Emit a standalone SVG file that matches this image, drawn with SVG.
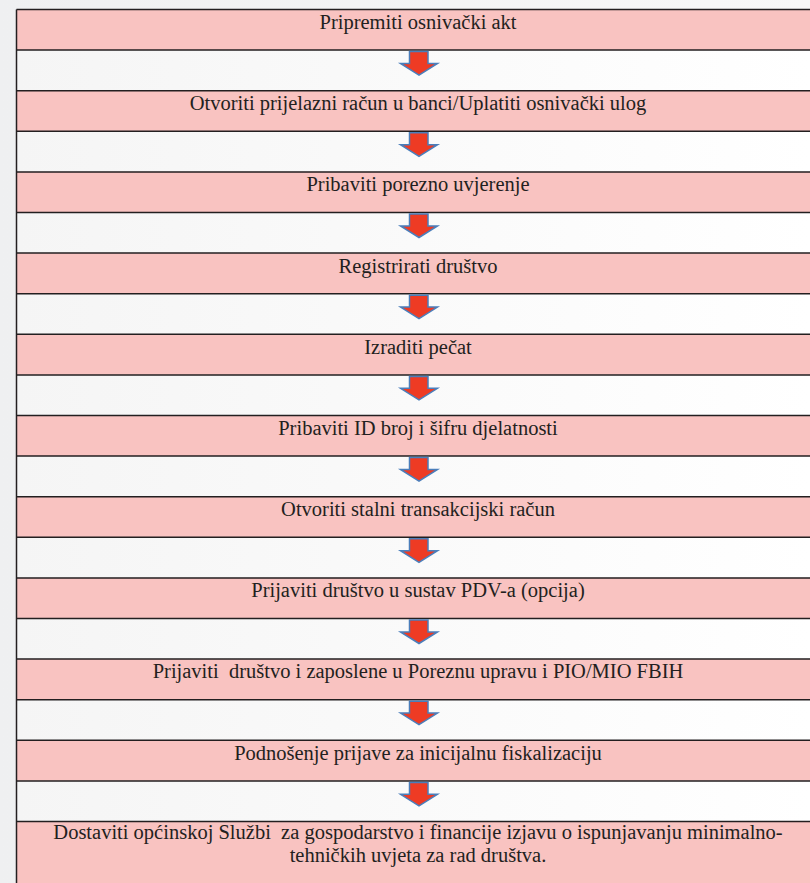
<svg xmlns="http://www.w3.org/2000/svg" width="810" height="883" viewBox="0 0 810 883">
<style>
.pink{fill:#f9c3c1}
.white{fill:url(#wg)}
.ln{stroke:#231f20;stroke-width:1.5;fill:none}
.t{font-family:"Liberation Serif","Times New Roman",serif;font-size:20.5px;fill:#231f20;text-anchor:middle;white-space:pre}
.arrow{fill:#ee3b24;stroke:#4a7ebb;stroke-width:1.5;stroke-linejoin:miter}
</style>
<defs>
<linearGradient id="bg" x1="0" y1="0" x2="1" y2="0">
<stop offset="0" stop-color="#eff0f1"/>
<stop offset="1" stop-color="#f8f8f8"/>
</linearGradient>
<linearGradient id="wg" x1="0" y1="0" x2="1" y2="0">
<stop offset="0" stop-color="#f5f5f5"/>
<stop offset="0.5" stop-color="#fafafa"/>
<stop offset="1" stop-color="#ffffff"/>
</linearGradient>
<path id="arr" class="arrow" d="M409.5,1.5 H428 V13.4 H437.5 L419,25 L400.5,13.4 H409.5 Z"/>
</defs>
<rect x="0" y="0" width="810" height="883" fill="url(#bg)"/>
<g id="rows">
<rect class="pink" x="16.5" y="9.5" width="794" height="40.6"/>
<rect class="white" x="16.5" y="50.1" width="794" height="40.6"/>
<rect class="pink" x="16.5" y="90.7" width="794" height="40.6"/>
<rect class="white" x="16.5" y="131.3" width="794" height="40.6"/>
<rect class="pink" x="16.5" y="171.9" width="794" height="40.6"/>
<rect class="white" x="16.5" y="212.5" width="794" height="40.6"/>
<rect class="pink" x="16.5" y="253.1" width="794" height="40.6"/>
<rect class="white" x="16.5" y="293.7" width="794" height="40.6"/>
<rect class="pink" x="16.5" y="334.3" width="794" height="40.6"/>
<rect class="white" x="16.5" y="374.9" width="794" height="40.6"/>
<rect class="pink" x="16.5" y="415.5" width="794" height="40.6"/>
<rect class="white" x="16.5" y="456.1" width="794" height="40.6"/>
<rect class="pink" x="16.5" y="496.7" width="794" height="40.6"/>
<rect class="white" x="16.5" y="537.3" width="794" height="40.6"/>
<rect class="pink" x="16.5" y="577.9" width="794" height="40.6"/>
<rect class="white" x="16.5" y="618.5" width="794" height="40.6"/>
<rect class="pink" x="16.5" y="659.1" width="794" height="40.6"/>
<rect class="white" x="16.5" y="699.7" width="794" height="40.6"/>
<rect class="pink" x="16.5" y="740.3" width="794" height="40.6"/>
<rect class="white" x="16.5" y="780.9" width="794" height="40.6"/>
<rect class="pink" x="16.5" y="821.5" width="794" height="62"/>
<path class="ln" d="M16.5,9.5 V883 M16.5,9.5 H810 M16.5,50.1 H810 M16.5,90.7 H810 M16.5,131.3 H810 M16.5,171.9 H810 M16.5,212.5 H810 M16.5,253.1 H810 M16.5,293.7 H810 M16.5,334.3 H810 M16.5,374.9 H810 M16.5,415.5 H810 M16.5,456.1 H810 M16.5,496.7 H810 M16.5,537.3 H810 M16.5,577.9 H810 M16.5,618.5 H810 M16.5,659.1 H810 M16.5,699.7 H810 M16.5,740.3 H810 M16.5,780.9 H810 M16.5,821.5 H810"/>
</g>
<g font-family="Liberation Serif, Times New Roman, serif">
<g id="n1"><text class="t" x="418" y="29">Pripremiti osnivački akt</text></g>
<g id="n2"><text class="t" x="418" y="110.2">Otvoriti prijelazni račun u banci/Uplatiti osnivački ulog</text></g>
<g id="n3"><text class="t" x="418" y="191.4">Pribaviti porezno uvjerenje</text></g>
<g id="n4"><text class="t" x="418" y="272.6">Registrirati društvo</text></g>
<g id="n5"><text class="t" x="418" y="353.8">Izraditi pečat</text></g>
<g id="n6"><text class="t" x="418" y="435">Pribaviti ID broj i šifru djelatnosti</text></g>
<g id="n7"><text class="t" x="418" y="516.2">Otvoriti stalni transakcijski račun</text></g>
<g id="n8"><text class="t" x="418" y="597.4">Prijaviti društvo u sustav PDV-a (opcija)</text></g>
<g id="n9"><text class="t" x="418" y="677.5">Prijaviti  društvo i zaposlene u Poreznu upravu i PIO/MIO FBIH</text></g>
<g id="n10"><text class="t" x="418" y="759.8">Podnošenje prijave za inicijalnu fiskalizaciju</text></g>
<g id="n11"><text class="t" x="418" y="839">Dostaviti općinskoj Službi  za gospodarstvo i financije izjavu o ispunjavanju minimalno-</text><text class="t" x="418" y="862">tehničkih uvjeta za rad društva.</text></g>
</g>
<g id="connectors">
<use href="#arr" transform="translate(0,50.1)"/>
<use href="#arr" transform="translate(0,131.3)"/>
<use href="#arr" transform="translate(0,212.5)"/>
<use href="#arr" transform="translate(0,293.7)"/>
<use href="#arr" transform="translate(0,374.9)"/>
<use href="#arr" transform="translate(0,456.1)"/>
<use href="#arr" transform="translate(0,537.3)"/>
<use href="#arr" transform="translate(0,618.5)"/>
<use href="#arr" transform="translate(0,699.7)"/>
<use href="#arr" transform="translate(0,780.9)"/>
</g>
</svg>
